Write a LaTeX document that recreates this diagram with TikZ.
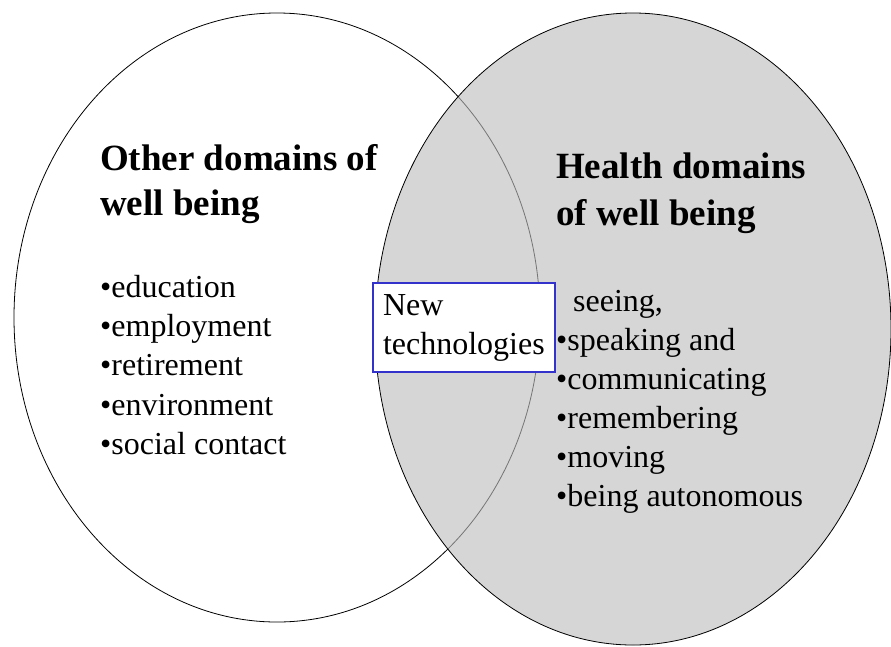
\documentclass[tikz,border=0pt]{standalone}
\usepackage{fontspec}
\setmainfont{Liberation Serif}
\definecolor{vgray}{HTML}{D6D6D6}
\definecolor{boxblue}{HTML}{3333CC}
\begin{document}
\begin{tikzpicture}[x=1pt,y=-1pt,
  title/.style={font=\fontsize{37}{46}\selectfont\bfseries, anchor=base west, inner sep=0pt},
  item/.style={font=\fontsize{32}{39}\selectfont, anchor=base west, inner sep=0pt},
  outline/.style={line width=0.8pt}]
\useasboundingbox (0,0) rectangle (891,646);
\fill[white] (0,0) rectangle (891,646);
% right (health) ellipse fill
\fill[vgray] (633,329) ellipse [x radius=258pt, y radius=316pt];
% left (other) ellipse outline
\draw[outline] (277,317.5) ellipse [x radius=263pt, y radius=304.5pt];
% veil over the left outline inside the grey region
\fill[vgray, fill opacity=0.55] (633,329) ellipse [x radius=258pt, y radius=316pt];
\draw[outline] (633,329) ellipse [x radius=258pt, y radius=316pt];

% titles
\node[title] (otherA) at (100,170) {Other domains of};
\node[title] (otherB) at (100,215) {well being};
\node[title] (healthA) at (556,178) {Health domains};
\node[title] (healthB) at (556,225) {of well being};

% left list
\node[item] (l1) at (100,297) {•education};
\node[item] (l2) at (100,336) {•employment};
\node[item] (l3) at (100,375) {•retirement};
\node[item] (l4) at (100,415) {•environment};
\node[item] (l5) at (100,454) {•social contact};

% right list
\node[item] (r1) at (573,311) {seeing,};
\node[item] (r2) at (556,350) {•speaking and};
\node[item] (r3) at (556,389) {•communicating};
\node[item] (r4) at (556,428) {•remembering};
\node[item] (r5) at (556,467) {•moving};
\node[item] (r6) at (556,506) {•being autonomous};

% box
\node[draw=boxblue, line width=2pt, fill=white, minimum width=182pt, minimum height=89pt,
      text width=162pt, inner xsep=10pt, align=left, font=\fontsize{32}{39}\selectfont,
      anchor=north west] (newtech) at (372,282) {New\\technologies};
\end{tikzpicture}
\end{document}
